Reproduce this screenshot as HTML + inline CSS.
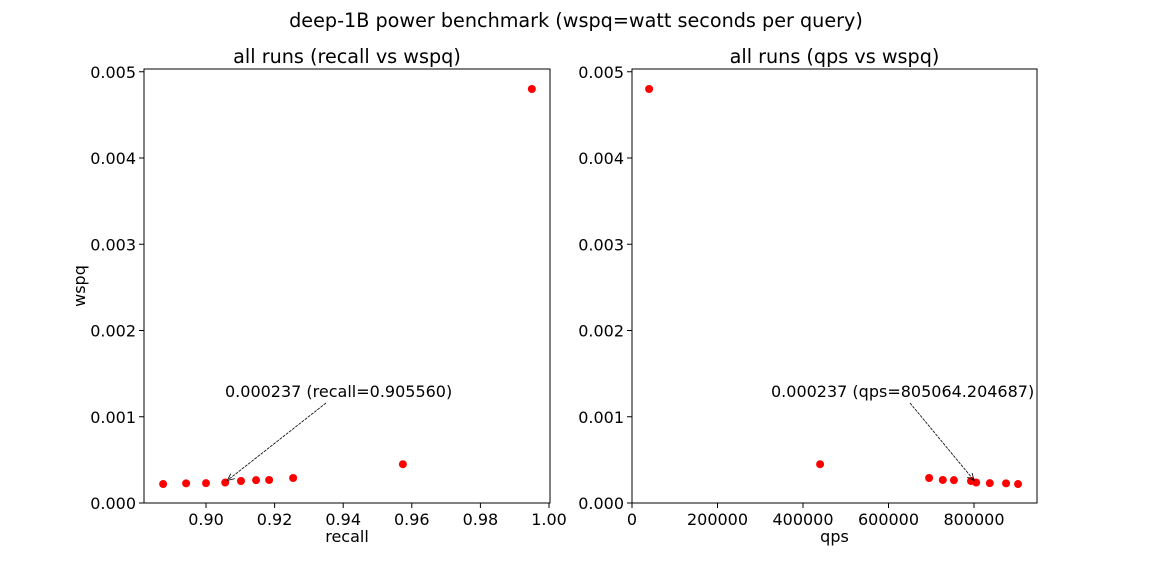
<!DOCTYPE html>
<html><head><meta charset="utf-8"><style>
body{margin:0;background:#fff;font-family:"Liberation Sans","DejaVu Sans",sans-serif;}
svg text{font-family:"DejaVu Sans","Liberation Sans",sans-serif;}
</style></head><body>
<svg id="fig" width="1152" height="576" xmlns="http://www.w3.org/2000/svg">
<text x="576" y="27" font-size="19.2" text-anchor="middle">deep-1B power benchmark (wspq=watt seconds per query)</text>
<defs><marker id="ah" markerWidth="10" markerHeight="10" refX="9" refY="5" orient="auto"><path d="M0,1 L9,5 L0,9" fill="none" stroke="#000" stroke-width="1"/></marker></defs>
</svg>
<script>
const recall=[0.8875,0.8942,0.9,0.9056,0.9102,0.9146,0.9184,0.9254,0.9574,0.995];
const wspq=[0.00022,0.000228,0.00023,0.000237,0.000255,0.000265,0.000267,0.00029,0.00045,0.0048];
const qps=[903000,875000,837000,805064,793000,753000,727000,695000,440000,40000];
const recallTicks=[0.90,0.92,0.94,0.96,0.98,1.00];
const qpsTicks=[0,200000,400000,600000,800000];
const wspqTicks=[0,0.001,0.002,0.003,0.004,0.005];
const NS="http://www.w3.org/2000/svg";
const svg=document.getElementById('fig');
function mk(t,a,txt){const e=document.createElementNS(NS,t);for(const k in a)e.setAttribute(k,a[k]);if(txt!==undefined)e.textContent=txt;svg.appendChild(e);return e;}
const y=v=>503-v*86250;
function panel(x0,x1,xs,xv,xt,fmt,title,xlabel,ylab,ann,annIdx,tx,pfx){
  let e=mk('rect',{x:x0,y:69,width:x1-x0,height:434,fill:'none',stroke:'#000','stroke-width':1});
  
  
  e=mk('text',{x:(x0+x1)/2,y:63,'font-size':19.2,'text-anchor':'middle'},title);
  
  
  xt.forEach(t=>{const px=xs(t);
    e=mk('line',{x1:px,x2:px,y1:503,y2:508,stroke:'#000'});
    
    
    e=mk('text',{x:px,y:525,'font-size':16,'text-anchor':'middle'},fmt(t));
    
    });
  wspqTicks.forEach(t=>{const py=y(t);
    e=mk('line',{x1:x0-5,x2:x0,y1:py,y2:py,stroke:'#000'});
    
    
    e=mk('text',{x:x0-8,y:py+6,'font-size':16,'text-anchor':'end'},t.toFixed(3));
    
    });
  e=mk('text',{x:(x0+x1)/2,y:542,'font-size':16,'text-anchor':'middle'},xlabel);
  
  
  if(ylab){e=mk('text',{x:0,y:0,'font-size':16,'text-anchor':'middle',transform:'translate(85,286) rotate(-90)'},ylab);
    
    }
  xv.forEach((v,i)=>{e=mk('circle',{cx:xs(v),cy:y(wspq[i]),r:4,fill:'#ff0000'});
    
    });
  const ax=xs(xv[annIdx]),ay=y(wspq[annIdx]);
  e=mk('text',{x:tx,y:397,'font-size':16},ann);
  
  
  const sx=pfx==='left'?326:910;
  e=mk('line',{x1:sx,y1:403,x2:ax+(pfx==='left'?2:-2),y2:ay-2,stroke:'#000','stroke-width':0.8,'stroke-dasharray':'3,1','marker-end':'url(#ah)'});
  
  
}
panel(144,550,v=>206+(v-0.9)*3430,recall,recallTicks,t=>t.toFixed(2),'all runs (recall vs wspq)','recall','wspq','0.000237 (recall=0.905560)',3,225,'left');
panel(632,1037,v=>632+v*85.5/200000,qps,qpsTicks,t=>String(t),'all runs (qps vs wspq)','qps',null,'0.000237 (qps=805064.204687)',3,771,'right');
</script>
</body></html>
